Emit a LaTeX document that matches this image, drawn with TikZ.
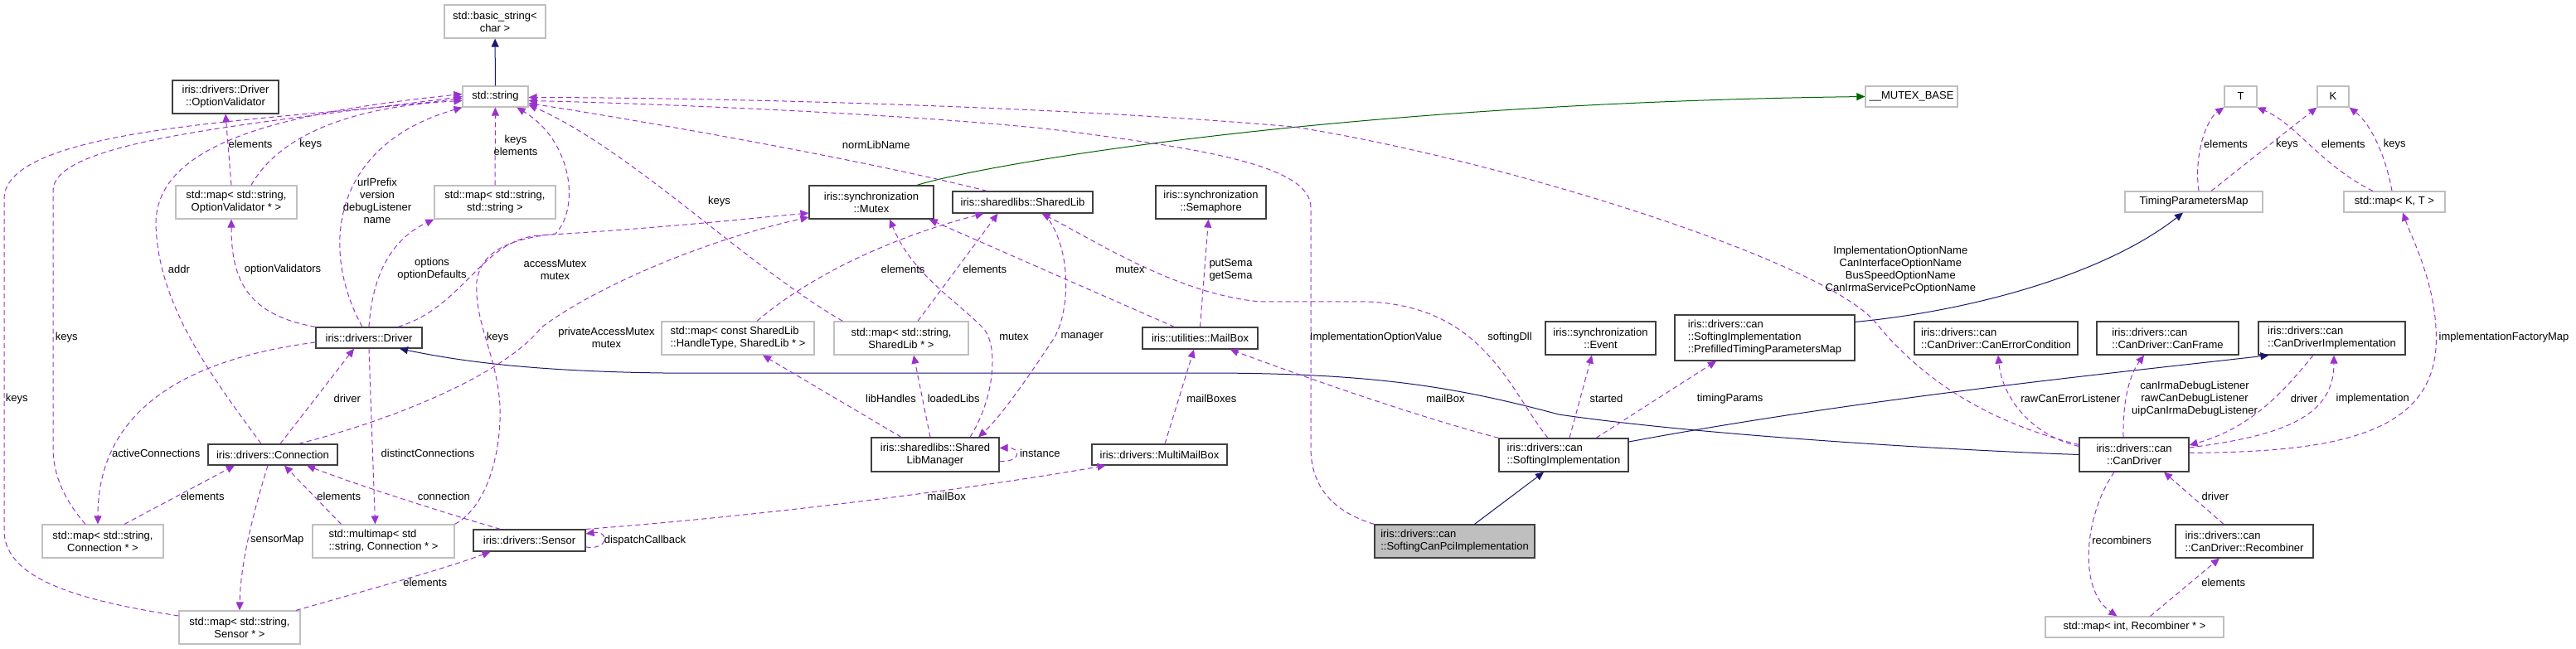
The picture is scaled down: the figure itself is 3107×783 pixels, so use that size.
\documentclass[tikz,border=0pt]{standalone}
\usepackage{fontspec}
\setmainfont{Liberation Sans}
\usepackage{xcolor}
\usepackage{tikz}
\usetikzlibrary{arrows.meta,calc}

\definecolor{usecol}{HTML}{9A32CD}
\definecolor{inhcol}{HTML}{191970}
\definecolor{protcol}{HTML}{006400}
\definecolor{darkedge}{HTML}{404040}
\definecolor{lightedge}{HTML}{BFBFBF}
\definecolor{focusfill}{HTML}{BFBFBF}

\begin{document}
\begin{tikzpicture}[x=1pt, y=-1pt,
    every node/.style={font=\fontsize{13}{15}\selectfont},
    cls/.style={draw=darkedge, line width=1.2pt, inner sep=0pt, align=center},
    ext/.style={draw=lightedge, line width=1.2pt, inner sep=0pt, align=center},
    boxsize/.style 2 args={minimum width=#1pt, minimum height=#2pt},
    lbl/.style={align=center, inner sep=0pt},
    uses/.style={usecol, line width=1pt, dash pattern=on 6pt off 4pt, -{Triangle[length=10pt,width=9pt]}},
    inherits/.style={inhcol, line width=1pt, -{Triangle[length=10pt,width=9pt]}}]
\useasboundingbox (0,0) rectangle (3107,783);

% Classes, top rows
\node[ext, boxsize={122}{40}] (basicstr) at (597,26) {std::basic\_string<\\char >};
\node[ext, boxsize={79}{25}] (stdstr) at (597.5,116.5) {std::string};
\node[cls, boxsize={128}{40}] (optval) at (272,117) {iris::drivers::Driver\\::OptionValidator};
\node[ext, boxsize={146}{40}] (mapoptval) at (285,244) {std::map< std::string,\\OptionValidator * >};
\node[ext, boxsize={146}{40}] (mapstrstr) at (597,244) {std::map< std::string,\\std::string >};
\node[cls, boxsize={150}{40}] (mutex) at (1051,244) {iris::synchronization\\::Mutex};
\node[cls, boxsize={169}{26}] (sharedlib) at (1233.5,244) {iris::sharedlibs::SharedLib};
\node[cls, boxsize={133}{40}] (semaphore) at (1460.5,244) {iris::synchronization\\::Semaphore};
\node[ext, boxsize={111}{25}] (mutexbase) at (2305.5,116.5) {\_\_MUTEX\_BASE};
\node[ext, boxsize={166}{25}] (timingmap) at (2646,243.5) {TimingParametersMap};
\node[ext, boxsize={39}{25}] (tmplT) at (2702.5,116.5) {T};
\node[ext, boxsize={38}{25}] (tmplK) at (2814,116.5) {K};
\node[ext, boxsize={122}{25}] (mapKT) at (2888,243.5) {std::map< K, T >};

% Classes, middle row
\node[cls, boxsize={128}{25}] (driver) at (445,407.5) {iris::drivers::Driver};
\node[ext, boxsize={184}{40}, align=left] (maphandle) at (890,408) {std::map< const SharedLib\\::HandleType, SharedLib * >};
\node[ext, boxsize={162}{40}] (mapstrlib) at (1087,408) {std::map< std::string,\\SharedLib * >};
\node[cls, boxsize={139}{26}] (mailbox) at (1447.5,408) {iris::utilities::MailBox};
\node[cls, boxsize={133}{40}] (event) at (1930.5,408) {iris::synchronization\\::Event};
\node[cls, boxsize={217}{55}, align=left] (prefilled) at (2128.5,407.5) {iris::drivers::can\\::SoftingImplementation\\::PrefilledTimingParametersMap};
\node[cls, boxsize={197}{40}, align=left] (errcond) at (2407.5,408) {iris::drivers::can\\::CanDriver::CanErrorCondition};
\node[cls, boxsize={171}{40}, align=left] (canframe) at (2614.5,408) {iris::drivers::can\\::CanDriver::CanFrame};
\node[cls, boxsize={177}{40}, align=left] (drvimpl) at (2812.5,408) {iris::drivers::can\\::CanDriverImplementation};

% Classes, lower rows
\node[cls, boxsize={156}{25}] (connection) at (329,548.5) {iris::drivers::Connection};
\node[cls, boxsize={154}{41}] (libmanager) at (1128,548.5) {iris::sharedlibs::Shared\\LibManager};
\node[cls, boxsize={163}{25}] (multimail) at (1398.5,548.5) {iris::drivers::MultiMailBox};
\node[cls, boxsize={156}{40}, align=left] (softimpl) at (1886,549) {iris::drivers::can\\::SoftingImplementation};
\node[cls, boxsize={132}{41}] (candriver) at (2574,548.5) {iris::drivers::can\\::CanDriver};
\node[ext, boxsize={146}{40}] (mapconn) at (124,653) {std::map< std::string,\\Connection * >};
\node[ext, boxsize={171}{40}, align=left] (multimapconn) at (462.5,653) {std::multimap< std\\::string, Connection * >};
\node[cls, boxsize={135}{26}] (sensor) at (638.5,652) {iris::drivers::Sensor};
\node[cls, fill=focusfill, boxsize={193}{40}, align=left] (softpci) at (1754.5,653) {iris::drivers::can\\::SoftingCanPciImplementation};
\node[cls, boxsize={166}{40}, align=left] (recombiner) at (2707,653) {iris::drivers::can\\::CanDriver::Recombiner};
\node[ext, boxsize={146}{40}] (mapsensor) at (289,757) {std::map< std::string,\\Sensor * >};
\node[ext, boxsize={215}{25}] (maprecomb) at (2574.5,756.5) {std::map< int, Recombiner * >};

% Inheritance
\draw[inherits] (stdstr) -- (basicstr);
\draw[inherits] ([xshift=24pt]softpci.north) -- ([xshift=-24pt]softimpl.south);
\draw[inherits] ([yshift=16pt]softimpl.east) .. controls (2250,480) and (2550,450) .. ([xshift=-76pt]drvimpl.south);
\draw[inherits] (candriver.west) .. controls (2350,543) and (2050,525) .. (1880,500)
    .. controls (1750,465) and (1650,450) .. (1450,450) -- (800,450)
    .. controls (650,448) and (560,437) .. ([xshift=37pt]driver.south);
\draw[inherits] ([yshift=-9pt]prefilled.north east) .. controls (2380,375) and (2540,330) .. ([xshift=-13pt]timingmap.south);
\draw[inherits, protcol] ([xshift=55pt]mutex.north) .. controls (1180,200) and (1600,125) .. (mutexbase.west);

% Members, left part
\draw[uses] ([xshift=-6pt]mapoptval.north) -- (optval.south);
\draw[uses] ([xshift=18pt]mapoptval.north) .. controls (330,175) and (400,130) .. ([yshift=-5pt]stdstr.west);
\draw[uses] (mapstrstr) -- (stdstr);
\draw[uses] ([xshift=-8pt]driver.north) .. controls (385,300) and (400,175) .. (stdstr.south west);
\draw[uses] (driver.north) .. controls (450,320) and (480,285) .. (mapstrstr.south west);
\draw[uses] (driver.north west) .. controls (300,380) and (279,340) .. ([xshift=-6pt]mapoptval.south);
\draw[uses] ([xshift=-14pt]connection.north) .. controls (260,460) and (190,370) .. (188,270)
    .. controls (188,170) and (350,135) .. ([yshift=3pt]stdstr.west);
\draw[uses] ([xshift=-21pt]mapconn.north) .. controls (75,600) and (64,570) .. (64,540) -- (64,230)
    .. controls (64,170) and (300,150) .. (stdstr.west);
\draw[uses] ([yshift=14pt]mapsensor.west) .. controls (100,725) and (5,700) .. (5,640) -- (5,240)
    .. controls (5,150) and (350,145) .. ([yshift=-2pt]stdstr.west);
\draw[uses] ([xshift=9pt]connection.north) -- ([xshift=-18pt]driver.south);
\draw[uses] ([yshift=-5.5pt]driver.west) .. controls (250,430) and (118,480) .. ([xshift=-6pt]mapconn.north);
\draw[uses] ([xshift=26pt]mapconn.north) -- ([xshift=-46pt]connection.south);
\draw[uses] ([xshift=-51pt]multimapconn.north) -- ([xshift=14pt]connection.south);
\draw[uses] (driver.south) -- ([xshift=-10pt]multimapconn.north);
\draw[uses] ([xshift=-35pt]sensor.north) .. controls (540,620) and (430,585) .. ([xshift=41pt]connection.south);
\draw[uses] ([xshift=-6pt]connection.south) .. controls (305,620) and (290,680) .. (mapsensor.north);
\draw[uses] ([xshift=68pt]mapsensor.north) .. controls (450,710) and (540,685) .. ([xshift=-47pt]sensor.south);
\draw[uses] ([yshift=-8pt]sensor.east) .. controls (735,664) and (735,640) .. ([yshift=8pt]sensor.east);
\draw[uses] (sensor.north east) .. controls (950,620) and (1200,585) .. ([xshift=-65pt]multimail.south);
\draw[uses] ([xshift=35pt]driver.north) .. controls (560,370) and (580,290) .. (650,284)
    .. controls (800,275) and (900,264) .. ([yshift=-13pt]mutex.west);
\draw[uses] ([xshift=31pt]connection.north) .. controls (480,505) and (610,450) .. (653,395)
    .. controls (720,345) and (850,290) .. ([yshift=-18pt]mutex.west);
\draw[uses] (multimapconn.north east) .. controls (590,610) and (605,540) .. (603,490)
    .. controls (600,430) and (572,390) .. (575,340) .. controls (580,300) and (620,288) .. (670,282)
    .. controls (700,250) and (690,170) .. ([xshift=26pt]stdstr.south);

% Members, shared libraries and mail boxes
\draw[uses] ([xshift=11pt]mapstrlib.north west) .. controls (900,320) and (760,180) .. ([yshift=-10pt]stdstr.east);
\draw[uses] ([xshift=-43pt]sharedlib.north) .. controls (1050,195) and (800,150) .. ([yshift=-8pt]stdstr.east);
\draw[uses] ([xshift=-31pt]mailbox.north) -- ([xshift=-6pt]mutex.south east);
\draw[uses] ([xshift=42pt]libmanager.north) .. controls (1200,480) and (1205,415) .. (1185,395)
    .. controls (1150,360) and (1100,330) .. ([xshift=22pt]mutex.south);
\draw[uses] ([xshift=23pt]maphandle.north) .. controls (980,330) and (1080,285) .. ([xshift=-47pt]sharedlib.south);
\draw[uses] ([xshift=20pt]mapstrlib.north) -- ([xshift=-30pt]sharedlib.south);
\draw[uses] ([xshift=-41pt]libmanager.north) -- ([xshift=30pt]maphandle.south);
\draw[uses] ([xshift=-6pt]libmanager.north) -- ([xshift=15pt]mapstrlib.south);
\draw[uses] ([xshift=26pt]sharedlib.south) .. controls (1295,300) and (1290,380) .. (1270,410)
    .. controls (1250,440) and (1210,500) .. ([xshift=52pt]libmanager.north);
\draw[uses] ([yshift=-8pt]libmanager.east) .. controls (1232,558) and (1232,540) .. ([yshift=8pt]libmanager.east);
\draw[uses] (mailbox.north) -- ([xshift=-3pt]semaphore.south);
\draw[uses] ([xshift=6.5pt]multimail.north) -- ([xshift=-7.5pt]mailbox.south);

% Members, CAN driver side
\draw[uses] ([yshift=12pt]candriver.west) .. controls (2400,510) and (2320,460) .. (2263,390)
    .. controls (2200,313) and (1800,190) .. (1560,153) .. controls (1300,130) and (900,118) .. ([yshift=-1pt]stdstr.east);
\draw[uses] (softpci.north west) .. controls (1600,615) and (1581,580) .. (1581,540) -- (1581,250)
    .. controls (1581,200) and (1450,180) .. (1300,160) .. controls (1150,140) and (800,125) .. ([yshift=-5pt]stdstr.east);
\draw[uses] ([xshift=-19pt]softimpl.north) .. controls (1820,470) and (1790,370) .. (1650,364) -- (1520,364)
    .. controls (1420,355) and (1320,290) .. ([xshift=23pt]sharedlib.south);
\draw[uses] (softimpl.north west) .. controls (1700,500) and (1560,450) .. ([xshift=-34pt]mailbox.south east);
\draw[uses] ([xshift=7pt]softimpl.north) -- ([xshift=-10.5pt]event.south);
\draw[uses] ([xshift=39pt]softimpl.north) -- ([xshift=-58.5pt]prefilled.south);
\draw[uses] ([yshift=10pt]candriver.west) .. controls (2450,525) and (2415,480) .. ([xshift=2.5pt]errcond.south);
\draw[uses] ([xshift=-13pt]candriver.north) .. controls (2560,480) and (2570,450) .. ([xshift=-28.5pt]canframe.south);
\draw[uses] ([yshift=8.5pt]candriver.east) .. controls (2760,525) and (2815,500) .. ([xshift=2.5pt]drvimpl.south);
\draw[uses] ([xshift=-22.5pt]drvimpl.south) .. controls (2760,465) and (2720,515) .. ([yshift=11.5pt]candriver.east);
\draw[uses] ([yshift=2pt]candriver.east) .. controls (2800,545) and (2930,530) .. (2938,420)
    .. controls (2942,350) and (2910,290) .. ([xshift=10pt]mapKT.south);
\draw[uses] ([xshift=-25pt]recombiner.north) -- ([xshift=36pt]candriver.south);
\draw[uses] ([xshift=-24pt]candriver.south) .. controls (2515,620) and (2505,710) .. ([xshift=-21pt]maprecomb.north);
\draw[uses] ([xshift=19pt]maprecomb.north) -- ([xshift=-30pt]recombiner.south);
\draw[uses] ([xshift=6pt]timingmap.north) .. controls (2646,190) and (2660,145) .. (tmplT.south west);
\draw[uses] ([xshift=21pt]timingmap.north) -- (tmplK.south west);
\draw[uses] ([xshift=-26pt]mapKT.north) .. controls (2800,200) and (2770,150) .. (tmplT.south east);
\draw[uses] ([xshift=-3pt]mapKT.north) .. controls (2878,190) and (2860,150) .. (tmplK.south east);

% Edge labels
\node[lbl] (lbOVel) at (302,174.3) {elements};
\node[lbl] (lbOVkeys) at (374.7,174.3) {keys};
\node[lbl] (lbSSkeys) at (622,175) {keys\\elements};
\node[lbl] (lbDrvStr) at (455,242.5) {urlPrefix\\version\\debugListener\\name};
\node[lbl] (lbDrvOpts) at (521,325) {options\\optionDefaults};
\node[lbl] (lbAddr) at (216,325) {addr};
\node[lbl] (lbOptVal) at (341,325) {optionValidators};
\node[lbl] (lbAccess) at (669.5,325.5) {accessMutex\\mutex};
\node[lbl] (lbPrivAccess) at (731.5,407) {privateAccessMutex\\mutex};
\node[lbl] (lbMapLibKeys) at (867.5,242.7) {keys};
\node[lbl] (lbNormLib) at (1056.7,175) {normLibName};
\node[lbl] (lbHandleEl) at (1089,325) {elements};
\node[lbl] (lbLibEl) at (1187.7,325) {elements};
\node[lbl] (lbMboxMutex) at (1363,325) {mutex};
\node[lbl] (lbSema) at (1484.5,325.5) {putSema\\getSema};
\node[lbl] (lbConnKeys) at (80.3,406.7) {keys};
\node[lbl] (lbSensKeys) at (20.3,480.7) {keys};
\node[lbl] (lbMmapKeys) at (600.3,406.7) {keys};
\node[lbl] (lbDriver) at (418.8,480.7) {driver};
\node[lbl] (lbActive) at (188.2,547.3) {activeConnections};
\node[lbl] (lbDistinct) at (516,547.3) {distinctConnections};
\node[lbl] (lbConnEl) at (244.2,599.3) {elements};
\node[lbl] (lbMmapEl) at (408.7,599.3) {elements};
\node[lbl] (lbConnection) at (535.3,599.3) {connection};
\node[lbl] (lbSensorMap) at (334.3,651.7) {sensorMap};
\node[lbl] (lbSensEl) at (512.7,703.3) {elements};
\node[lbl] (lbDispatch) at (778,651.7) {dispatchCallback};
\node[lbl] (lbMailBoxS) at (1141.7,599.3) {mailBox};
\node[lbl] (lbLibHandles) at (1074.5,480.7) {libHandles};
\node[lbl] (lbLoaded) at (1150.2,480.7) {loadedLibs};
\node[lbl] (lbLmMutex) at (1223,406.7) {mutex};
\node[lbl] (lbManager) at (1305.3,406.7) {manager};
\node[lbl] (lbInstance) at (1254.3,547.3) {instance};
\node[lbl] (lbMailBoxes) at (1461.3,480.7) {mailBoxes};
\node[lbl] (lbImplValue) at (1659.7,406.7) {ImplementationOptionValue};
\node[lbl] (lbSoftingDll) at (1821,406.7) {softingDll};
\node[lbl] (lbMailBoxI) at (1743.5,480.7) {mailBox};
\node[lbl] (lbStarted) at (1937.5,480.7) {started};
\node[lbl] (lbTiming) at (2086.7,480.7) {timingParams};
\node[lbl] (lbOptNames) at (2292.3,325.5) {ImplementationOptionName\\CanInterfaceOptionName\\BusSpeedOptionName\\CanIrmaServicePcOptionName};
\node[lbl] (lbRawErr) at (2497.3,480.7) {rawCanErrorListener};
\node[lbl] (lbDebug) at (2647,481) {canIrmaDebugListener\\rawCanDebugListener\\uipCanIrmaDebugListener};
\node[lbl] (lbDrvImplDrv) at (2779,480.7) {driver};
\node[lbl] (lbImpl) at (2861.7,480.7) {implementation};
\node[lbl] (lbFactory) at (3020,406.7) {implementationFactoryMap};
\node[lbl] (lbRecDrv) at (2671.8,599.3) {driver};
\node[lbl] (lbRecombiners) at (2559,651.7) {recombiners};
\node[lbl] (lbRecEl) at (2681.7,703.3) {elements};
\node[lbl] (lbTel) at (2684.5,174.3) {elements};
\node[lbl] (lbTkeys) at (2758.5,174.3) {keys};
\node[lbl] (lbKTel) at (2826.3,174.3) {elements};
\node[lbl] (lbKTkeys) at (2888.3,174.3) {keys};
\end{tikzpicture}
\end{document}
